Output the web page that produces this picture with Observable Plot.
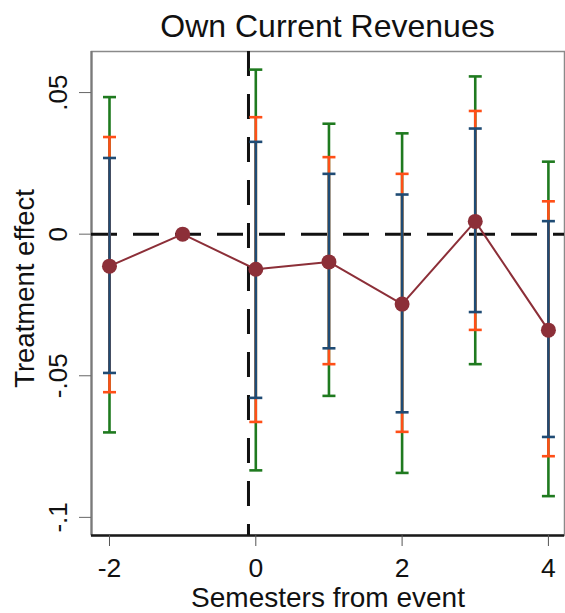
<!DOCTYPE html>
<html>
<head>
<meta charset="utf-8">
<script src="https://cdn.jsdelivr.net/npm/d3@7"></script>
<script src="https://cdn.jsdelivr.net/npm/@observablehq/plot@0.6"></script>
<style>
  html, body { margin: 0; padding: 0; background: #fff; }
  body { width: 565px; height: 613px; overflow: hidden; font-family: "Liberation Sans", Arial, sans-serif; }
  #title { height: 40px; box-sizing: border-box; padding: 10px 1px 0 91px; line-height: 32px; font-size: 32px; text-align: center; color: #111; white-space: nowrap; overflow: visible; }
  svg { display: block; }
</style>
</head>
<body>
<div id="title"></div>
<div id="chart"></div>
<script>
// ---- data ----
const periods   = [-2, -1, 0, 1, 2, 3, 4];
const estimates = [-0.0113, 0, -0.0124, -0.0098, -0.0247, 0.0045, -0.0339];

const ciPeriods = [-2, 0, 1, 2, 3, 4];
const ci99Hi = [0.0484, 0.0581, 0.0390, 0.0356, 0.0557, 0.0256];
const ci99Lo = [-0.0700, -0.0834, -0.0571, -0.0843, -0.0459, -0.0925];
const ci95Hi = [0.0343, 0.0413, 0.0272, 0.0213, 0.0435, 0.0116];
const ci95Lo = [-0.0558, -0.0663, -0.0459, -0.0698, -0.0338, -0.0784];
const ci90Hi = [0.0269, 0.0326, 0.0213, 0.0140, 0.0373, 0.0046];
const ci90Lo = [-0.0490, -0.0578, -0.0403, -0.0629, -0.0275, -0.0716];

const eventLine = -0.1;
const xTicks = [-2, 0, 2, 4];
const xTickLabels = ["-2", "0", "2", "4"];
const yTicks = [0.05, 0, -0.05, -0.1];
const yTickLabels = [".05", "0", "-.05", "-.1"];
const titleText = "Own Current Revenues";
const xTitle = "Semesters from event";
const yTitle = "Treatment effect";

// ---- tables ----
const pts = periods.map((x, i) => ({x, y: estimates[i]}));
const mk = (lo, hi) => ciPeriods.map((x, i) => ({x, lo: lo[i], hi: hi[i]}));
const c99 = mk(ci99Lo, ci99Hi), c95 = mk(ci95Lo, ci95Hi), c90 = mk(ci90Lo, ci90Hi);

const colGreen = "#1f7a1f", colOrange = "#ff4f17", colBlue = "#1f4b74", colMaroon = "#8c2f38";
const capSymbol = { draw(ctx) { ctx.moveTo(-6.5, 0); ctx.lineTo(6.5, 0); } };

const xDomain = [-2.246, 4.22];
const yDomain = [-0.1064, 0.0645];

function bars(data, color) {
  return [
    Plot.ruleX(data, {x: "x", y1: "lo", y2: "hi", stroke: color, strokeWidth: 2.6}),
    Plot.dot(data, {x: "x", y: "hi", symbol: capSymbol, stroke: color, strokeWidth: 2.6, fill: "none"}),
    Plot.dot(data, {x: "x", y: "lo", symbol: capSymbol, stroke: color, strokeWidth: 2.6, fill: "none"})
  ];
}

const chart = Plot.plot({
  width: 565,
  height: 573,
  marginLeft: 91,
  marginRight: 1,
  marginTop: 11,
  marginBottom: 78,
  style: {fontFamily: '"Liberation Sans", Arial, sans-serif', color: "#111", background: "#fff"},
  x: {domain: xDomain},
  y: {domain: yDomain},
  marks: [
    Plot.frame({stroke: "#8a8a8a", strokeWidth: 1.5}),
    Plot.ruleX([xDomain[0]], {stroke: "#7a7a7a", strokeWidth: 2.2}),
    Plot.ruleY([yDomain[0]], {stroke: "#1a1a1a", strokeWidth: 2.6}),
    Plot.ruleY([0], {stroke: "#111", strokeWidth: 3, strokeDasharray: "26,16"}),
    Plot.ruleX([eventLine], {stroke: "#111", strokeWidth: 3, strokeDasharray: "25,18"}),
    ...bars(c99, colGreen),
    ...bars(c95, colOrange),
    ...bars(c90, colBlue),
    Plot.line(pts, {x: "x", y: "y", stroke: colMaroon, strokeWidth: 2}),
    Plot.dot(pts, {x: "x", y: "y", r: 7.5, fill: colMaroon, stroke: "none"}),
    // y axis ticks and labels
    Plot.axisY(yTicks, {tickSize: 12, stroke: "#666", tickFormat: () => "", label: null}),
    Plot.text(yTicks, {
      y: (d) => d, frameAnchor: "left", text: (d, i) => yTickLabels[i],
      rotate: -90, textAnchor: "middle", lineAnchor: "middle", dx: -32.5, fontSize: 26, fill: "#111"
    }),
    // x axis ticks and labels
    Plot.axisX(xTicks, {tickSize: 11, stroke: "#555", tickFormat: () => "", label: null}),
    Plot.text(xTicks, {
      x: (d) => d, frameAnchor: "bottom", text: (d, i) => xTickLabels[i],
      textAnchor: "middle", lineAnchor: "top", dy: 22.5, fontSize: 26.5, fill: "#111"
    }),
    Plot.text([yTitle], {frameAnchor: "left", rotate: -90, textAnchor: "middle", lineAnchor: "middle", dx: -66, dy: -5, fontSize: 27.5, fill: "#111"}),
    Plot.text([xTitle], {frameAnchor: "bottom", textAnchor: "middle", lineAnchor: "middle", dy: 63, fontSize: 28, fill: "#111"})
  ]
});
document.getElementById("chart").appendChild(chart);
document.getElementById("title").textContent = titleText;
</script>
</body>
</html>
